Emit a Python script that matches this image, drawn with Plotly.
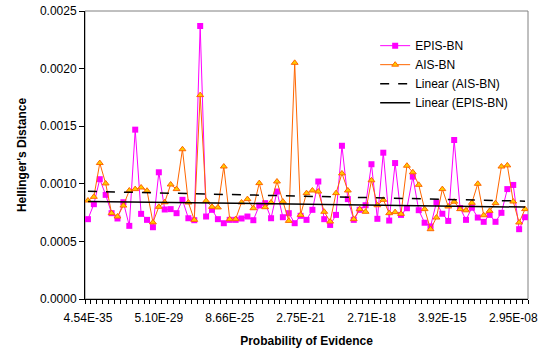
import numpy as np
import plotly.graph_objects as go

# Hellinger's distance per test case, ordered by probability of evidence
epis_bn = [
    0.000693, 0.000823, 0.00104, 0.000904, 0.000745, 0.000699, 0.00084, 0.000635, 0.00147, 0.000739,
    0.000687, 0.000623, 0.0011, 0.000777, 0.00078, 0.000745, 0.000861, 0.000701, 0.000684, 0.00237,
    0.000716, 0.000774, 0.000693, 0.000658, 0.000687, 0.000687, 0.000699, 0.000716, 0.000684, 0.000812,
    0.000832, 0.000701, 0.000933, 0.00071, 0.000745, 0.000658, 0.000722, 0.000687, 0.000774, 0.00102,
    0.000693, 0.000643, 0.00073, 0.00133, 0.000867, 0.000687, 0.000774, 0.000814, 0.00117, 0.000696,
    0.00127, 0.000681, 0.00118, 0.00073, 0.000788, 0.001062, 0.000771, 0.000662, 0.00063, 0.000838,
    0.00074, 0.000678, 0.00138, 0.00079, 0.000687, 0.000792, 0.000707, 0.00067, 0.00073, 0.00067,
    0.000748, 0.000954, 0.00099, 0.000606, 0.00071,
]
ais_bn = [
    0.000855, 0.000887, 0.00118, 0.001003, 0.000745, 0.000716, 0.000811, 0.000942, 0.000954, 0.000968,
    0.00094, 0.000665, 0.0008, 0.00084, 0.000994, 0.000954, 0.0013, 0.000838, 0.000687, 0.00177,
    0.000852, 0.0008, 0.000795, 0.00115, 0.000693, 0.000693, 0.000838, 0.000867, 0.000788, 0.001006,
    0.000797, 0.000838, 0.00102, 0.000846, 0.000678, 0.00205, 0.00073, 0.000919, 0.000942, 0.000933,
    0.000757, 0.000672, 0.000919, 0.00109, 0.000942, 0.000693, 0.00078, 0.000757, 0.00103, 0.000814,
    0.000861, 0.000745, 0.000754, 0.000739, 0.001157, 0.0011, 0.000991, 0.00078, 0.000606, 0.000707,
    0.000954, 0.000803, 0.000845, 0.00078, 0.00077, 0.000835, 0.001, 0.000727, 0.000765, 0.000832,
    0.00115, 0.00116, 0.000846, 0.000664, 0.00078,
]
# Probability-of-evidence labels shown every 12th case
tick_labels = ["4.54E-35", "5.10E-29", "8.66E-25", "2.75E-21", "2.71E-18", "3.92E-15", "2.95E-08"]
label_step = 12

n = len(epis_bn)
x = np.arange(n)

# Least-squares trend lines over the case index
fit_ais = np.polyval(np.polyfit(x, ais_bn, 1), x)
fit_epis = np.polyval(np.polyfit(x, epis_bn, 1), x)

FONT = "Liberation Sans, Arial, sans-serif"

fig = go.Figure()
fig.add_trace(go.Scatter(
    x=x, y=epis_bn, name="EPIS-BN", mode="lines+markers",
    line=dict(color="#FF00FF", width=1),
    marker=dict(symbol="square", size=6, color="#FF00FF"),
))
fig.add_trace(go.Scatter(
    x=x, y=ais_bn, name="AIS-BN", mode="lines+markers",
    line=dict(color="#FF6600", width=1),
    marker=dict(symbol="triangle-up", size=6, color="#FFCC00",
                line=dict(color="#FF6600", width=1)),
))
fig.add_trace(go.Scatter(
    x=x, y=fit_ais, name="Linear (AIS-BN)", mode="lines",
    line=dict(color="black", width=1.5, dash="dash"),
))
fig.add_trace(go.Scatter(
    x=x, y=fit_epis, name="Linear (EPIS-BN)", mode="lines",
    line=dict(color="black", width=1.5),
))

fig.update_layout(
    width=544, height=354,
    margin=dict(l=85, r=16, t=11, b=55),
    paper_bgcolor="white", plot_bgcolor="white",
    font=dict(family=FONT, size=12, color="black"),
    showlegend=True,
    legend=dict(
        x=0.655, y=0.93, xanchor="left", yanchor="top",
        bgcolor="rgba(0,0,0,0)", font=dict(family=FONT, size=12),
        tracegroupgap=0, itemwidth=30,
    ),
    xaxis=dict(
        range=[-0.5, n - 0.5],
        tickmode="array",
        tickvals=[i * label_step for i in range(len(tick_labels))],
        ticktext=tick_labels,
        ticks="", showgrid=False, zeroline=False,
        showline=True, linecolor="black", linewidth=1,
        tickfont=dict(size=12),
        ticklabelstandoff=8,
        automargin=False,
        minor=dict(ticks="outside", tickmode="linear", tick0=-0.5, dtick=1,
                   ticklen=4, tickcolor="black", showgrid=False),
        title=dict(text="<b>Probability of Evidence</b>", font=dict(size=12), standoff=12),
    ),
    yaxis=dict(
        range=[0, 0.0025],
        tickmode="linear", tick0=0, dtick=0.0005, tickformat=".4f",
        ticks="outside", ticklen=5, tickcolor="black",
        showgrid=False, zeroline=False,
        showline=True, linecolor="black", linewidth=1,
        tickfont=dict(size=12),
        automargin=False,
        title=dict(text="<b>Hellinger's Distance</b>", font=dict(size=12), standoff=10),
    ),
    shapes=[dict(type="rect", xref="paper", yref="paper", x0=0, y0=0, x1=1, y1=1,
                 line=dict(color="#808080", width=1), layer="below")],
)

fig.write_html("out.html")
